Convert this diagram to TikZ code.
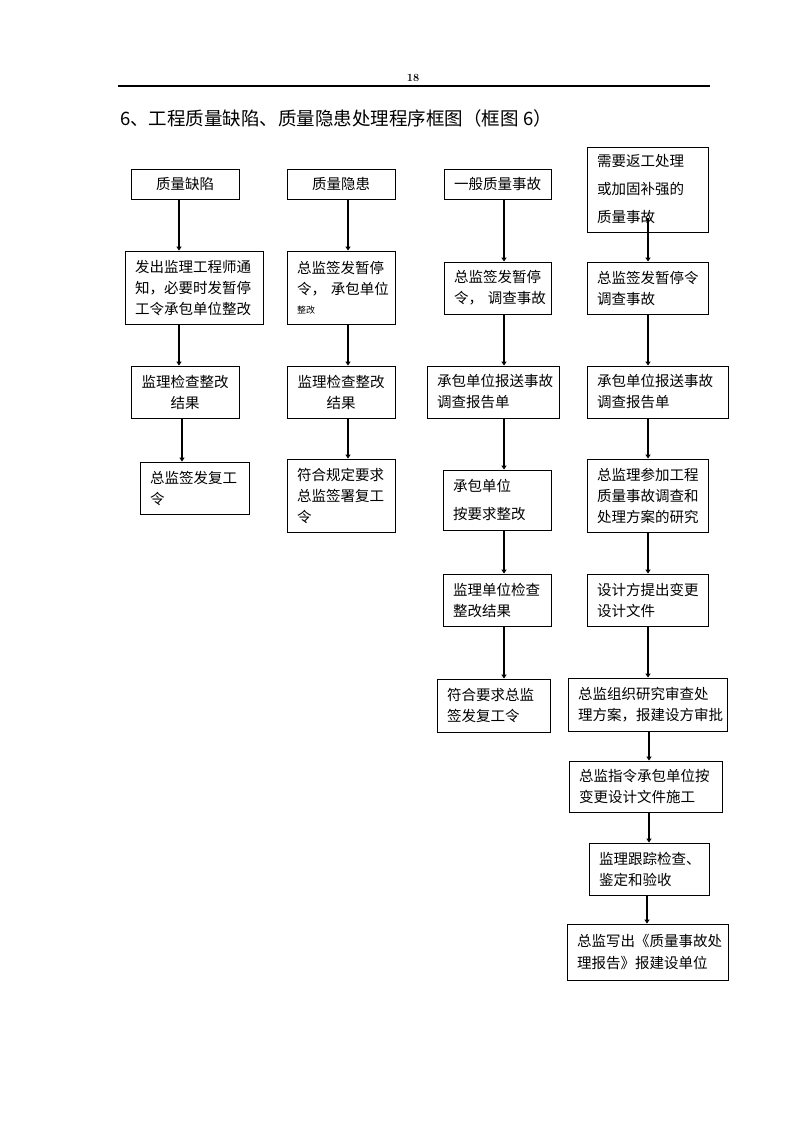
\documentclass[tikz,border=0pt]{standalone}
\usepackage{fontspec}
\newfontfamily\cjk{Noto Sans CJK SC}
\usetikzlibrary{arrows.meta}
\tikzset{
  bx/.style={draw, line width=0.9pt, inner xsep=10pt, inner ysep=0pt, align=left,
    font=\cjk\fontsize{14.5}{21}\selectfont},
  bxc/.style={bx, align=center},
  arr/.style={line width=1.8pt, -{Triangle[width=5pt,length=4pt]}},
  rule/.style={line width=1.2pt}
}
\begin{document}
\begin{tikzpicture}[x=1pt,y=-1pt]
\useasboundingbox[fill=white] (0,0) rectangle (794,1123);
% header
\node[font=\bfseries\fontsize{11}{11}\selectfont, anchor=base] (pg) at (413,82) {18};
\coordinate (hl) at (118,86);
\coordinate (hr) at (710,86);
\draw[rule] (hl) -- (hr);
\node[font=\cjk\fontsize{18.5}{20}\selectfont, anchor=west, inner sep=0] (title) at (120,118)
  {6、工程质量缺陷、质量隐患处理程序框图（框图~6）};

% column 1
\node[bxc, text width=88, minimum height=30] (a1) at (185,184) {质量缺陷};
\node[bx, text width=118, minimum height=73] (a2) at (194,287.5) {发出监理工程师通\\知，必要时发暂停\\工令承包单位整改};
\node[bxc, text width=88, minimum height=52] (a3) at (185,392) {监理检查整改\\结果};
\node[bx, text width=89, minimum height=52] (a4) at (194.5,488) {总监签发复工\\令};

% column 2
\node[bxc, text width=88, minimum height=30] (b1) at (341,184) {质量隐患};
\node[bx, text width=88, minimum height=73] (b2) at (341,287.5) {总监签发暂停\\令，~承包单位\\[-2pt]{\fontsize{9}{9}\selectfont 整改}};
\node[bxc, text width=88, minimum height=52] (b3) at (341,392) {监理检查整改\\结果};
\node[bx, text width=88, minimum height=73] (b4) at (341,495.5) {符合规定要求\\总监签署复工\\令};

% column 3
\node[bxc, text width=87, minimum height=30] (c1) at (497.5,184) {一般质量事故};
\node[bx, text width=87, minimum height=52] (c2) at (497.5,288) {总监签发暂停\\令，~调查事故};
\node[bx, text width=112, minimum height=52] (c3) at (493,392) {承包单位报送事故\\调查报告单};
\node[bx, text width=88, minimum height=60] (c4) at (497,500) {承包单位\\[7pt]按要求整改};
\node[bx, text width=88, minimum height=52] (c5) at (497,600) {监理单位检查\\整改结果};
\node[bx, text width=93, minimum height=53] (c6) at (493.5,705.5) {符合要求总监\\签发复工令};

% column 4
\node[bx, text width=101, minimum height=85] (d1) at (647.5,189.5) {需要返工处理\\[7pt]或加固补强的\\[7pt]质量事故};
\node[bx, text width=101, minimum height=52] (d2) at (647.5,288) {总监签发暂停令\\调查事故};
\node[bx, text width=121, minimum height=52] (d3) at (657.5,392) {承包单位报送事故\\调查报告单};
\node[bx, text width=101, minimum height=73] (d4) at (647.5,495.5) {总监理参加工程\\质量事故调查和\\处理方案的研究};
\node[bx, text width=101, minimum height=52] (d5) at (647.5,600) {设计方提出变更\\设计文件};
\node[bx, text width=139, minimum height=53] (d6) at (647.5,704.5) {总监组织研究审查处\\理方案，报建设方审批};
\node[bx, text width=133, minimum height=51] (d7) at (645.5,786.5) {总监指令承包单位按\\变更设计文件施工};
\node[bx, text width=100, minimum height=52] (d8) at (649,869) {监理跟踪检查、\\鉴定和验收};
\node[bx, text width=141, minimum height=56] (d9) at (647.5,952) {总监写出《质量事故处\\理报告》报建设单位};

\coordinate (d1s) at ([yshift=14pt]d1.south);

% connectors
\draw[arr] (179,0 |- a1.south) -- (179,0 |- a2.north);
\draw[arr] (179,0 |- a2.south) -- (179,0 |- a3.north);
\draw[arr] (182,0 |- a3.south) -- (182,0 |- a4.north);

\draw[arr] (348,0 |- b1.south) -- (348,0 |- b2.north);
\draw[arr] (348,0 |- b2.south) -- (348,0 |- b3.north);
\draw[arr] (348,0 |- b3.south) -- (348,0 |- b4.north);

\draw[arr] (504,0 |- c1.south) -- (504,0 |- c2.north);
\draw[arr] (504,0 |- c2.south) -- (504,0 |- c3.north);
\draw[arr] (504,0 |- c3.south) -- (504,0 |- c4.north);
\draw[arr] (504,0 |- c4.south) -- (504,0 |- c5.north);
\draw[arr] (504,0 |- c5.south) -- (504,0 |- c6.north);

\draw[arr] (648,0 |- d1s) -- (648,0 |- d2.north);
\draw[arr] (648,0 |- d2.south) -- (648,0 |- d3.north);
\draw[arr] (648,0 |- d3.south) -- (648,0 |- d4.north);
\draw[arr] (648,0 |- d4.south) -- (648,0 |- d5.north);
\draw[arr] (648,0 |- d5.south) -- (648,0 |- d6.north);
\draw[arr] (649,0 |- d6.south) -- (649,0 |- d7.north);
\draw[arr] (649,0 |- d7.south) -- (649,0 |- d8.north);
\draw[arr] (647,0 |- d8.south) -- (647,0 |- d9.north);
\end{tikzpicture}
\end{document}
